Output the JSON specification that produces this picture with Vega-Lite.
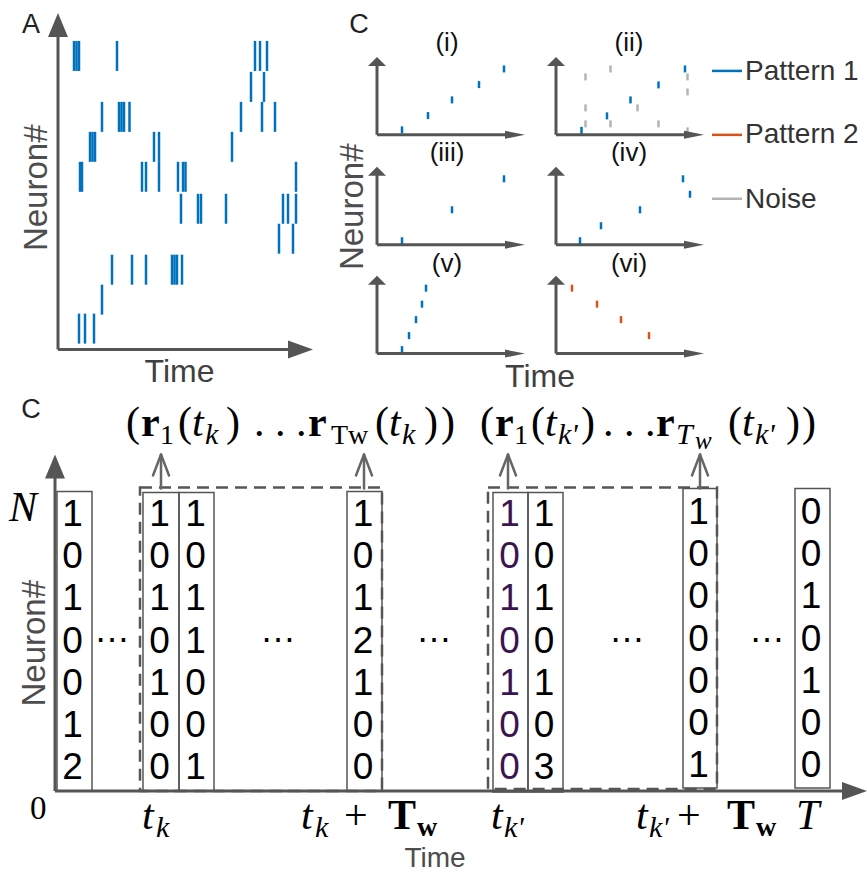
{
  "$schema": "https://vega.github.io/schema/vega-lite/v6.json",
  "width": 867,
  "height": 873,
  "autosize": {"type": "fit", "contains": "padding"},
  "padding": 0,
  "background": "white",
  "config": {"view": {"stroke": null}, "font": "Liberation Sans"},
  "datasets": {
    "spikesA": [
      {"x": 74, "y": 56}, {"x": 76.5, "y": 56}, {"x": 79, "y": 56}, {"x": 117, "y": 56}, {"x": 255, "y": 56}, {"x": 260, "y": 56}, {"x": 267, "y": 56},
      {"x": 251, "y": 87}, {"x": 264, "y": 87},
      {"x": 102, "y": 117}, {"x": 119, "y": 117}, {"x": 121.5, "y": 117}, {"x": 124, "y": 117}, {"x": 129.5, "y": 117}, {"x": 241, "y": 117}, {"x": 262, "y": 117}, {"x": 275, "y": 117},
      {"x": 90, "y": 147}, {"x": 92.5, "y": 147}, {"x": 95, "y": 147}, {"x": 154, "y": 147}, {"x": 159, "y": 147}, {"x": 232, "y": 147},
      {"x": 80, "y": 177}, {"x": 82, "y": 177}, {"x": 142, "y": 177}, {"x": 146, "y": 177}, {"x": 159, "y": 177}, {"x": 178, "y": 177}, {"x": 183, "y": 177}, {"x": 185.5, "y": 177}, {"x": 296, "y": 177},
      {"x": 181, "y": 209}, {"x": 198, "y": 209}, {"x": 201, "y": 209}, {"x": 226, "y": 209}, {"x": 283, "y": 209}, {"x": 288, "y": 209}, {"x": 296, "y": 209},
      {"x": 279, "y": 239}, {"x": 293, "y": 239},
      {"x": 112, "y": 270}, {"x": 132, "y": 270}, {"x": 146, "y": 270}, {"x": 172, "y": 270}, {"x": 174.5, "y": 270}, {"x": 177, "y": 270}, {"x": 182, "y": 270},
      {"x": 102, "y": 300},
      {"x": 79, "y": 329}, {"x": 85, "y": 329}, {"x": 94, "y": 329}
    ],
    "spikesC": [
      {"x": 402, "y": 130, "series": "Pattern 1"}, {"x": 428, "y": 115.7, "series": "Pattern 1"}, {"x": 452, "y": 100, "series": "Pattern 1"}, {"x": 479, "y": 84.7, "series": "Pattern 1"}, {"x": 504, "y": 69, "series": "Pattern 1"},
      {"x": 585.5, "y": 77, "series": "Noise"}, {"x": 585.5, "y": 108, "series": "Noise"}, {"x": 585.5, "y": 124, "series": "Noise"}, {"x": 610.5, "y": 69, "series": "Noise"}, {"x": 610.5, "y": 124, "series": "Noise"}, {"x": 637.5, "y": 108, "series": "Noise"}, {"x": 658.5, "y": 124, "series": "Noise"}, {"x": 687.5, "y": 77, "series": "Noise"}, {"x": 687.5, "y": 92, "series": "Noise"}, {"x": 687.5, "y": 131, "series": "Noise"},
      {"x": 581.5, "y": 130.5, "series": "Pattern 1"}, {"x": 607, "y": 116, "series": "Pattern 1"}, {"x": 630.5, "y": 100, "series": "Pattern 1"}, {"x": 658.5, "y": 85, "series": "Pattern 1"}, {"x": 685, "y": 69, "series": "Pattern 1"},
      {"x": 402, "y": 241, "series": "Pattern 1"}, {"x": 452, "y": 210, "series": "Pattern 1"}, {"x": 504, "y": 179, "series": "Pattern 1"},
      {"x": 580, "y": 241, "series": "Pattern 1"}, {"x": 601, "y": 226, "series": "Pattern 1"}, {"x": 640, "y": 210, "series": "Pattern 1"}, {"x": 683, "y": 179, "series": "Pattern 1"}, {"x": 690, "y": 194.5, "series": "Pattern 1"},
      {"x": 402, "y": 350, "series": "Pattern 1"}, {"x": 409, "y": 336, "series": "Pattern 1"}, {"x": 416, "y": 320, "series": "Pattern 1"}, {"x": 422, "y": 304.5, "series": "Pattern 1"}, {"x": 426, "y": 288.5, "series": "Pattern 1"},
      {"x": 572, "y": 288.5, "series": "Pattern 2"}, {"x": 597, "y": 304.5, "series": "Pattern 2"}, {"x": 621, "y": 320, "series": "Pattern 2"}, {"x": 649, "y": 336, "series": "Pattern 2"}
    ],
    "legendLines": [
      {"x": 712, "x2": 742, "y": 71, "y2": 71, "series": "Pattern 1"},
      {"x": 712, "x2": 742, "y": 135, "y2": 135, "series": "Pattern 2"},
      {"x": 712, "x2": 742, "y": 199, "y2": 199, "series": "Noise"}
    ],
    "legendLabels": [
      {"x": 745, "y": 80, "label": "Pattern 1"},
      {"x": 745, "y": 143, "label": "Pattern 2"},
      {"x": 745, "y": 208, "label": "Noise"}
    ],
    "axes": [
      {"x": 58, "y": 350, "x2": 58, "y2": 26},
      {"x": 58, "y": 350, "x2": 300, "y2": 350},
      {"x": 377, "y": 135, "x2": 377, "y2": 63}, {"x": 377, "y": 135, "x2": 515, "y2": 135},
      {"x": 556, "y": 135, "x2": 556, "y2": 63}, {"x": 556, "y": 135, "x2": 694, "y2": 135},
      {"x": 377, "y": 245, "x2": 377, "y2": 173}, {"x": 377, "y": 245, "x2": 515, "y2": 245},
      {"x": 556, "y": 245, "x2": 556, "y2": 173}, {"x": 556, "y": 245, "x2": 694, "y2": 245},
      {"x": 377, "y": 354, "x2": 377, "y2": 282}, {"x": 377, "y": 354, "x2": 515, "y2": 354},
      {"x": 556, "y": 354, "x2": 556, "y2": 282}, {"x": 556, "y": 354, "x2": 694, "y2": 354},
      {"x": 55, "y": 792, "x2": 55, "y2": 468},
      {"x": 55, "y": 792, "x2": 852, "y2": 792}
    ],
    "bigUp": [{"x": 58, "y": 25}, {"x": 55, "y": 467}],
    "bigRight": [{"x": 300.5, "y": 350}, {"x": 854.5, "y": 792}],
    "smallUp": [
      {"x": 377, "y": 61.5}, {"x": 556, "y": 61.5},
      {"x": 377, "y": 171.5}, {"x": 556, "y": 171.5},
      {"x": 377, "y": 280.5}, {"x": 556, "y": 280.5}
    ],
    "smallRight": [
      {"x": 515, "y": 135}, {"x": 694, "y": 135},
      {"x": 515, "y": 245}, {"x": 694, "y": 245},
      {"x": 515, "y": 354}, {"x": 694, "y": 354}
    ],
    "boxes": [
      {"x": 57, "x2": 92, "y": 492, "y2": 792},
      {"x": 143, "x2": 179, "y": 493, "y2": 792},
      {"x": 179, "x2": 214, "y": 493, "y2": 792},
      {"x": 347, "x2": 382, "y": 492, "y2": 792},
      {"x": 493, "x2": 528, "y": 493, "y2": 793},
      {"x": 528, "x2": 563, "y": 493, "y2": 793},
      {"x": 683, "x2": 717, "y": 489, "y2": 789},
      {"x": 795, "x2": 830, "y": 489, "y2": 789}
    ],
    "windows": [
      {"x": 140, "x2": 382, "y": 488, "y2": 792},
      {"x": 488, "x2": 717, "y": 488, "y2": 790}
    ],
    "pointers": [
      {"x": 161, "y": 489, "x2": 161, "y2": 456}, {"x": 161, "y": 455, "x2": 153, "y2": 476}, {"x": 161, "y": 455, "x2": 169, "y2": 476},
      {"x": 364, "y": 489, "x2": 364, "y2": 456}, {"x": 364, "y": 455, "x2": 356, "y2": 476}, {"x": 364, "y": 455, "x2": 372, "y2": 476},
      {"x": 508, "y": 489, "x2": 508, "y2": 456}, {"x": 508, "y": 455, "x2": 500, "y2": 476}, {"x": 508, "y": 455, "x2": 516, "y2": 476},
      {"x": 700, "y": 489, "x2": 700, "y2": 456}, {"x": 700, "y": 455, "x2": 692, "y2": 476}, {"x": 700, "y": 455, "x2": 708, "y2": 476}
    ],
    "digits": [
      {"x": 72.5, "y": 527, "label": "1"}, {"x": 72.5, "y": 569, "label": "0"}, {"x": 72.5, "y": 611, "label": "1"}, {"x": 72.5, "y": 654, "label": "0"}, {"x": 72.5, "y": 696, "label": "0"}, {"x": 72.5, "y": 738, "label": "1"}, {"x": 72.5, "y": 780, "label": "2"},
      {"x": 159.5, "y": 527, "label": "1"}, {"x": 159.5, "y": 569, "label": "0"}, {"x": 159.5, "y": 611, "label": "1"}, {"x": 159.5, "y": 654, "label": "0"}, {"x": 159.5, "y": 696, "label": "1"}, {"x": 159.5, "y": 738, "label": "0"}, {"x": 159.5, "y": 780, "label": "0"},
      {"x": 195.5, "y": 527, "label": "1"}, {"x": 195.5, "y": 569, "label": "0"}, {"x": 195.5, "y": 611, "label": "1"}, {"x": 195.5, "y": 654, "label": "1"}, {"x": 195.5, "y": 696, "label": "0"}, {"x": 195.5, "y": 738, "label": "0"}, {"x": 195.5, "y": 780, "label": "1"},
      {"x": 363, "y": 527, "label": "1"}, {"x": 363, "y": 569, "label": "0"}, {"x": 363, "y": 611, "label": "1"}, {"x": 363, "y": 654, "label": "2"}, {"x": 363, "y": 696, "label": "1"}, {"x": 363, "y": 738, "label": "0"}, {"x": 363, "y": 780, "label": "0"},
      {"x": 544, "y": 527, "label": "1"}, {"x": 544, "y": 569, "label": "0"}, {"x": 544, "y": 611, "label": "1"}, {"x": 544, "y": 654, "label": "0"}, {"x": 544, "y": 696, "label": "1"}, {"x": 544, "y": 738, "label": "0"}, {"x": 544, "y": 780, "label": "3"},
      {"x": 698.5, "y": 525, "label": "1"}, {"x": 698.5, "y": 567, "label": "0"}, {"x": 698.5, "y": 609, "label": "0"}, {"x": 698.5, "y": 652, "label": "0"}, {"x": 698.5, "y": 694, "label": "0"}, {"x": 698.5, "y": 736, "label": "0"}, {"x": 698.5, "y": 778, "label": "1"},
      {"x": 811, "y": 525, "label": "0"}, {"x": 811, "y": 567, "label": "0"}, {"x": 811, "y": 609, "label": "1"}, {"x": 811, "y": 652, "label": "0"}, {"x": 811, "y": 694, "label": "1"}, {"x": 811, "y": 736, "label": "0"}, {"x": 811, "y": 778, "label": "0"}
    ],
    "digitsHighlight": [
      {"x": 509.5, "y": 527, "label": "1"}, {"x": 509.5, "y": 569, "label": "0"}, {"x": 509.5, "y": 611, "label": "1"}, {"x": 509.5, "y": 654, "label": "0"}, {"x": 509.5, "y": 696, "label": "1"}, {"x": 509.5, "y": 738, "label": "0"}, {"x": 509.5, "y": 780, "label": "0"}
    ],
    "ellipses": [
      {"x": 112, "y": 643, "label": "…"}, {"x": 278, "y": 643, "label": "…"}, {"x": 434, "y": 643, "label": "…"}, {"x": 627, "y": 643, "label": "…"}, {"x": 767, "y": 643, "label": "…"}
    ],
    "neuronLabels": [
      {"x": 47, "y": 188, "label": "Neuron#"},
      {"x": 363, "y": 207, "label": "Neuron#"},
      {"x": 45, "y": 644, "label": "Neuron#"}
    ],
    "timeLabels": [
      {"x": 179.5, "y": 382, "label": "Time"},
      {"x": 540, "y": 387, "label": "Time"}
    ],
    "timeBottom": [{"x": 435, "y": 868, "label": "Time"}],
    "panelLetters": [
      {"x": 31, "y": 33, "label": "A"},
      {"x": 359, "y": 33, "label": "C"},
      {"x": 31, "y": 418, "label": "C"}
    ],
    "subTitles": [
      {"x": 447, "y": 51, "label": "(i)"}, {"x": 629, "y": 51, "label": "(ii)"},
      {"x": 447, "y": 161, "label": "(iii)"}, {"x": 629, "y": 161, "label": "(iv)"},
      {"x": 447, "y": 272, "label": "(v)"}, {"x": 629, "y": 272, "label": "(vi)"}
    ],
    "mathNormal": [
      {"x": 126, "y": 437, "label": "("}, {"x": 178, "y": 437, "label": "("}, {"x": 226, "y": 437, "label": ")"}, {"x": 254, "y": 437, "label": ". . ."}, {"x": 375, "y": 437, "label": "("}, {"x": 424, "y": 437, "label": ")"}, {"x": 441, "y": 437, "label": ")"},
      {"x": 480, "y": 437, "label": "("}, {"x": 531, "y": 437, "label": "("}, {"x": 581, "y": 437, "label": ")"}, {"x": 603, "y": 437, "label": ". . ."}, {"x": 728, "y": 437, "label": "("}, {"x": 786, "y": 437, "label": ")"}, {"x": 802, "y": 437, "label": ")"},
      {"x": 344, "y": 830, "label": "+"}, {"x": 677, "y": 830, "label": "+"}
    ],
    "mathMid": [{"x": 30, "y": 820, "label": "0"}],
    "mathBold": [
      {"x": 141, "y": 437, "label": "r"}, {"x": 308, "y": 437, "label": "r"}, {"x": 495, "y": 437, "label": "r"}, {"x": 656, "y": 437, "label": "r"},
      {"x": 388, "y": 830, "label": "T"}, {"x": 727, "y": 830, "label": "T"}
    ],
    "mathItalic": [
      {"x": 192, "y": 437, "label": "t"}, {"x": 389, "y": 437, "label": "t"}, {"x": 545, "y": 437, "label": "t"}, {"x": 742, "y": 437, "label": "t"},
      {"x": 142, "y": 830, "label": "t"}, {"x": 301, "y": 830, "label": "t"}, {"x": 491, "y": 830, "label": "t"}, {"x": 636, "y": 830, "label": "t"},
      {"x": 796, "y": 830, "label": "T"}, {"x": 9, "y": 522, "label": "N"}
    ],
    "mathSub": [
      {"x": 160, "y": 445, "label": "1"}, {"x": 514, "y": 445, "label": "1"}, {"x": 331, "y": 445, "label": "T"}, {"x": 348, "y": 445, "label": "w"}
    ],
    "mathSubItalic": [
      {"x": 205, "y": 445, "label": "k"}, {"x": 402, "y": 445, "label": "k"}, {"x": 558, "y": 445, "label": "k'"}, {"x": 755, "y": 445, "label": "k'"}, {"x": 676, "y": 445, "label": "T"},
      {"x": 156, "y": 838, "label": "k"}, {"x": 315, "y": 838, "label": "k"}, {"x": 504, "y": 838, "label": "k'"}, {"x": 649, "y": 838, "label": "k'"}
    ],
    "mathSubSub": [{"x": 695, "y": 450, "label": "w"}],
    "mathSubBold": [{"x": 417, "y": 837, "label": "w"}, {"x": 756, "y": 837, "label": "w"}]
  },
  "encoding": {
    "x": {"field": "x", "type": "quantitative", "scale": {"domain": [0, 867], "nice": false, "zero": false}, "axis": null},
    "y": {"field": "y", "type": "quantitative", "scale": {"domain": [0, 873], "nice": false, "zero": false, "reverse": true}, "axis": null}
  },
  "layer": [
    {"data": {"name": "spikesA"}, "mark": {"type": "tick", "orient": "vertical", "size": 30, "thickness": 2.5, "color": "#0072BD", "opacity": 1}},
    {"data": {"name": "spikesC"}, "mark": {"type": "tick", "orient": "vertical", "size": 7, "thickness": 2.5, "opacity": 1},
     "encoding": {"color": {"field": "series", "type": "nominal", "scale": {"domain": ["Pattern 1", "Pattern 2", "Noise"], "range": ["#0072BD", "#D95319", "#B4B4B4"]}, "legend": null}}},
    {"data": {"name": "legendLines"}, "mark": {"type": "rule", "strokeWidth": 2.5},
     "encoding": {"x2": {"field": "x2"}, "y2": {"field": "y2"}, "color": {"field": "series", "type": "nominal", "legend": null}}},
    {"data": {"name": "legendLabels"}, "mark": {"type": "text", "fontSize": 28, "color": "#333333", "align": "left", "baseline": "alphabetic"}, "encoding": {"text": {"field": "label"}}},
    {"data": {"name": "boxes"}, "mark": {"type": "rect", "fill": "transparent", "stroke": "#555555", "strokeWidth": 1.5}, "encoding": {"x2": {"field": "x2"}, "y2": {"field": "y2"}}},
    {"data": {"name": "windows"}, "mark": {"type": "rect", "fill": "transparent", "stroke": "#555555", "strokeWidth": 2.5, "strokeDash": [12, 7]}, "encoding": {"x2": {"field": "x2"}, "y2": {"field": "y2"}}},
    {"data": {"name": "pointers"}, "mark": {"type": "rule", "color": "#666666", "strokeWidth": 2.5, "strokeCap": "round"}, "encoding": {"x2": {"field": "x2"}, "y2": {"field": "y2"}}},
    {"data": {"name": "axes"}, "mark": {"type": "rule", "color": "#555555", "strokeWidth": 3}, "encoding": {"x2": {"field": "x2"}, "y2": {"field": "y2"}}},
    {"data": {"name": "bigUp"}, "mark": {"type": "point", "shape": "M-0.83,1L0,-1L0.83,1Z", "size": 576, "filled": true, "color": "#555555", "opacity": 1, "strokeWidth": 0}},
    {"data": {"name": "bigRight"}, "mark": {"type": "point", "shape": "M-1,-0.72L1,0L-1,0.72Z", "size": 625, "filled": true, "color": "#555555", "opacity": 1, "strokeWidth": 0}},
    {"data": {"name": "smallUp"}, "mark": {"type": "point", "shape": "M-1,0.5L0,-0.5L1,0.5Z", "size": 324, "filled": true, "color": "#555555", "opacity": 1, "strokeWidth": 0}},
    {"data": {"name": "smallRight"}, "mark": {"type": "point", "shape": "M-1,-0.4L1,0L-1,0.4Z", "size": 400, "filled": true, "color": "#555555", "opacity": 1, "strokeWidth": 0}},
    {"data": {"name": "digits"}, "mark": {"type": "text", "fontSize": 37, "color": "#000000", "align": "center", "baseline": "alphabetic"}, "encoding": {"text": {"field": "label"}}},
    {"data": {"name": "digitsHighlight"}, "mark": {"type": "text", "fontSize": 37, "color": "#3B1550", "align": "center", "baseline": "alphabetic"}, "encoding": {"text": {"field": "label"}}},
    {"data": {"name": "ellipses"}, "mark": {"type": "text", "fontSize": 36, "color": "#000000", "align": "center", "baseline": "alphabetic"}, "encoding": {"text": {"field": "label"}}},
    {"data": {"name": "neuronLabels"}, "mark": {"type": "text", "fontSize": 33, "angle": 270, "color": "#4D4D4D", "align": "center", "baseline": "alphabetic"}, "encoding": {"text": {"field": "label"}}},
    {"data": {"name": "timeLabels"}, "mark": {"type": "text", "fontSize": 32, "color": "#404040", "align": "center", "baseline": "alphabetic"}, "encoding": {"text": {"field": "label"}}},
    {"data": {"name": "timeBottom"}, "mark": {"type": "text", "fontSize": 28, "color": "#4D4D4D", "align": "center", "baseline": "alphabetic"}, "encoding": {"text": {"field": "label"}}},
    {"data": {"name": "panelLetters"}, "mark": {"type": "text", "fontSize": 27, "color": "#222222", "align": "center", "baseline": "alphabetic"}, "encoding": {"text": {"field": "label"}}},
    {"data": {"name": "subTitles"}, "mark": {"type": "text", "fontSize": 26, "color": "#111111", "align": "center", "baseline": "alphabetic"}, "encoding": {"text": {"field": "label"}}},
    {"data": {"name": "mathNormal"}, "mark": {"type": "text", "font": "Liberation Serif", "fontSize": 42, "color": "#000000", "align": "left", "baseline": "alphabetic"}, "encoding": {"text": {"field": "label"}}},
    {"data": {"name": "mathMid"}, "mark": {"type": "text", "font": "Liberation Serif", "fontSize": 33, "color": "#000000", "align": "left", "baseline": "alphabetic"}, "encoding": {"text": {"field": "label"}}},
    {"data": {"name": "mathBold"}, "mark": {"type": "text", "font": "Liberation Serif", "fontWeight": "bold", "fontSize": 42, "color": "#000000", "align": "left", "baseline": "alphabetic"}, "encoding": {"text": {"field": "label"}}},
    {"data": {"name": "mathItalic"}, "mark": {"type": "text", "font": "Liberation Serif", "fontStyle": "italic", "fontSize": 42, "color": "#000000", "align": "left", "baseline": "alphabetic"}, "encoding": {"text": {"field": "label"}}},
    {"data": {"name": "mathSub"}, "mark": {"type": "text", "font": "Liberation Serif", "fontSize": 28, "color": "#000000", "align": "left", "baseline": "alphabetic"}, "encoding": {"text": {"field": "label"}}},
    {"data": {"name": "mathSubItalic"}, "mark": {"type": "text", "font": "Liberation Serif", "fontStyle": "italic", "fontSize": 30, "color": "#000000", "align": "left", "baseline": "alphabetic"}, "encoding": {"text": {"field": "label"}}},
    {"data": {"name": "mathSubSub"}, "mark": {"type": "text", "font": "Liberation Serif", "fontStyle": "italic", "fontSize": 25, "color": "#000000", "align": "left", "baseline": "alphabetic"}, "encoding": {"text": {"field": "label"}}},
    {"data": {"name": "mathSubBold"}, "mark": {"type": "text", "font": "Liberation Serif", "fontWeight": "bold", "fontSize": 28, "color": "#000000", "align": "left", "baseline": "alphabetic"}, "encoding": {"text": {"field": "label"}}}
  ]
}
